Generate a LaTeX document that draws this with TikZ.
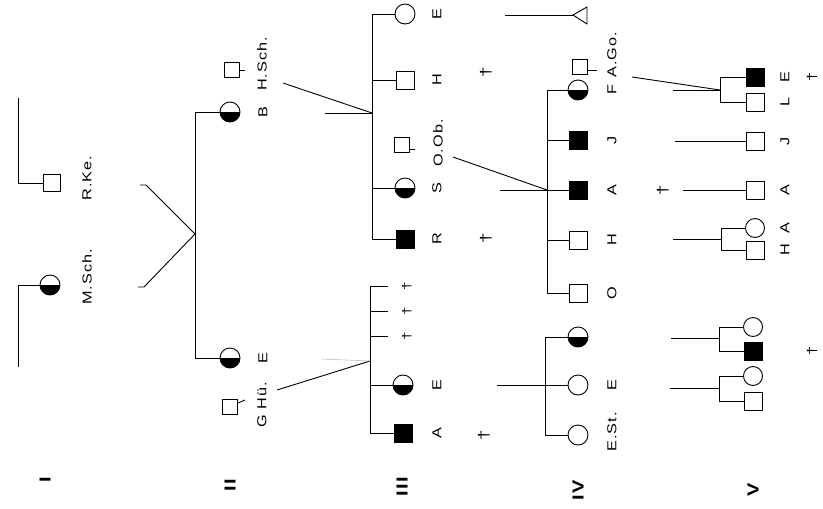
\documentclass[tikz,border=0pt]{standalone}
\usepackage{fontspec}
\setmainfont{Liberation Sans}[FakeStretch=1.25, LetterSpace=8]
\begin{document}
\begin{tikzpicture}[x=1pt,y=-1pt, line width=0.9pt,
  sym/.style={draw, inner sep=0pt, line width=0.9pt},
  sq/.style={sym, rectangle, minimum size=18pt},
  ssq/.style={sym, rectangle, minimum size=15pt},
  fsq/.style={sq, fill=black},
  ci/.style={sym, circle, minimum size=20pt},
  hci/.style={ci, path picture={\fill (path picture bounding box.west) rectangle (path picture bounding box.south east);}},
  lab/.style={rotate=90, font=\fontsize{13}{13}\selectfont, inner sep=0pt},
  gen/.style={rotate=90, font=\fontsize{16}{16}\selectfont\bfseries, inner sep=0pt},
  dag/.style={rotate=90, font=\fontsize{15}{15}\selectfont, inner sep=0pt}]
\useasboundingbox (0,0) rectangle (823,509);
% ---------- Generation I
\node[hci] (msch) at (50,285) {};
\node[sq, minimum size=17pt] (rke) at (52,183) {};
\coordinate (ia) at (18,367);
\coordinate (ib) at (18,98);
\draw (ia) |- (msch.west);
\draw (ib) |- (rke.west);
\node[lab] (lmsch) at (87,277) {M.Sch.};
\node[lab] (lrke) at (87,178) {R.Ke.};
\coordinate (m1a0) at (140,185); \coordinate (m1a) at (146,185);
\coordinate (m1b0) at (138,287); \coordinate (m1b) at (144,287);
\coordinate (m1) at (195,234);
\draw (m1a0) -- (m1a) -- (m1);
\draw (m1b0) -- (m1b) -- (m1);
% ---------- Generation II
\node[hci] (b2) at (230,112) {};
\node[hci] (e2) at (230,358) {};
\coordinate (s1t) at (195,112); \coordinate (s1b) at (195,358);
\draw (b2.west) -- (s1t) -- (s1b) -- (e2.west);
\node[ssq] (hsch) at (232,70) {};
\coordinate (hscht) at (245,70);
\draw (hsch.east) -- (hscht);
\node[ssq] (ghu) at (230,407) {};
\coordinate (ghut) at (245,400);
\draw ([yshift=4pt]ghu.east) -- (ghut);
\node[lab] (lb2) at (263,112) {B};
\node[lab] (lhsch) at (262,64) {H.Sch.};
\node[lab] (le2) at (263,358) {E};
\node[lab] (lghu) at (262,405) {G Hü.};
% ---------- Generation III, family 1
\coordinate (m2a) at (283,83); \coordinate (m2b) at (325,113); \coordinate (m2) at (372,113);
\draw (m2a) -- (m2); \draw (m2b) -- (m2);
\node[ci] (e3) at (405,14) {};
\node[sq] (h3) at (405,80) {};
\node[ssq] (oob) at (402,145) {};
\node[hci] (s3) at (405,188) {};
\node[fsq] (r3) at (405,239) {};
\coordinate (s2t) at (372,14); \coordinate (s2b) at (372,239);
\coordinate (s2h) at (372,80); \coordinate (s2s) at (372,188);
\draw (e3.west) -- (s2t) -- (s2b) -- (r3.west);
\draw (h3.west) -- (s2h);
\draw (s3.west) -- (s2s);
\coordinate (oobt) at (415,149);
\draw ([yshift=-4pt]oob.east) -- (oobt);
\node[lab] at (437,14) {E};
\node[lab] at (437,80) {H};
\node[lab] at (438,143) {O.Ob.};
\node[lab] at (437,188) {S};
\node[lab] at (437,239) {R};
% ---------- Generation III, family 2
\coordinate (m3a) at (277,390); \coordinate (m3c) at (322,359); \coordinate (m3) at (370,361);
\draw (m3a) -- (m3); \draw[gray!50, line width=0.6pt] (m3c) -- (m3);
\node[hci] (e3b) at (403,385) {};
\node[fsq] (a3) at (403,433) {};
\coordinate (s3t) at (370,286); \coordinate (s3b) at (370,433);
\coordinate (s3e) at (370,385);
\draw (s3t) -- (s3b) -- (a3.west);
\draw (e3b.west) -- (s3e);
\foreach \y/\n in {286/x1,311/x2,336/x3}{
  \coordinate (st\n) at (370,\y); \coordinate (en\n) at (388,\y);
  \draw (st\n) -- (en\n);
  \node[dag, font=\fontsize{12}{12}\selectfont] at (407,\y) {†};
}
\node[lab] at (437,385) {E};
\node[lab] at (437,433) {A};
% deaths gen III
\node[dag] at (486,72) {†};
\node[dag] at (486,238) {†};
\node[dag] at (484,435) {†};
% ---------- Generation IV
\coordinate (e3c) at (505,15);
\coordinate (tra) at (573,15); \coordinate (trb) at (587,7); \coordinate (trc) at (587,24);
\draw (e3c) -- (tra);
\draw[line join=round] (tra) -- (trb) -- (trc) -- cycle;
\coordinate (m4a) at (453,157); \coordinate (m4b) at (500,190); \coordinate (m4) at (547,190);
\draw (m4a) -- (m4); \draw (m4b) -- (m4);
\node[hci] (f4) at (578,90) {};
\node[ssq] (ago) at (580,67) {};
\coordinate (agot) at (597,70);
\draw ([yshift=-3pt]ago.east) -- (agot);
\node[fsq] (j4) at (578,140) {};
\node[fsq] (a4) at (578,190) {};
\node[sq] (h4) at (578,240) {};
\node[sq] (o4) at (578,293) {};
\coordinate (s4t) at (547,90); \coordinate (s4b) at (547,293);
\coordinate (s4j) at (547,140); \coordinate (s4h) at (547,240);
\draw (f4.west) -- (s4t) -- (s4b) -- (o4.west);
\draw (s4j) -- (j4.west);
\draw (m4) -- (a4.west);
\draw (s4h) -- (h4.west);
\node[lab] at (612,90) {F};
\node[lab] at (612,55) {A.Go.};
\node[lab] at (612,140) {J};
\node[lab] at (612,190) {A};
\node[lab] at (612,240) {H};
\node[lab] at (612,293) {O};
% family 2
\coordinate (m5a) at (497,385); \coordinate (m5) at (545,385);
\draw (m5a) -- (m5);
\node[hci] (x4) at (578,337) {};
\node[ci] (e4) at (578,385) {};
\node[ci] (est) at (578,435) {};
\coordinate (s5t) at (545,337); \coordinate (s5b) at (545,435);
\draw (x4.west) -- (s5t) -- (s5b) -- (est.west);
\draw (m5) -- (e4.west);
\node[lab] at (612,385) {E};
\node[lab] at (612,432) {E.St.};
% ---------- Generation V
\coordinate (m6a) at (632,77); \coordinate (m6b) at (673,90); \coordinate (m6) at (720,90);
\draw (m6a) -- (m6); \draw (m6b) -- (m6);
\node[fsq] (e5) at (755,77) {};
\node[sq] (l5) at (755,102) {};
\coordinate (s6t) at (720,77); \coordinate (s6b) at (720,102);
\draw (e5.west) -- (s6t) -- (s6b) -- (l5.west);
\node[lab] at (785,77) {E};
\node[lab] at (785,102) {L};
\node[dag, font=\fontsize{13}{13}\selectfont] at (812,77) {†};
\coordinate (j5a) at (675,141);
\node[sq] (j5) at (755,141) {};
\draw (j5a) -- (j5.west);
\node[lab] at (785,141) {J};
\node[dag] at (663,190) {†};
\coordinate (a5a) at (683,190);
\node[sq] (a5) at (755,190) {};
\draw (a5a) -- (a5.west);
\node[lab] at (785,190) {A};
\coordinate (ha5a) at (673,239); \coordinate (ha5) at (721,239);
\node[ci, minimum size=19pt] (ca5) at (755,228) {};
\node[sq] (hh5) at (755,250) {};
\coordinate (s7t) at (721,228); \coordinate (s7b) at (721,250);
\draw (ha5a) -- (ha5);
\draw (ca5.west) -- (s7t) -- (s7b) -- (hh5.west);
\node[lab] at (785,228) {A};
\node[lab] at (785,250) {H};
\coordinate (f8a) at (671,338); \coordinate (f8) at (719,338);
\node[ci, minimum size=19pt] (c8) at (753,327) {};
\node[fsq] (q8) at (753,351) {};
\coordinate (s8t) at (719,327); \coordinate (s8b) at (719,351);
\draw (f8a) -- (f8);
\draw (c8.west) -- (s8t) -- (s8b) -- (q8.west);
\node[dag, font=\fontsize{13}{13}\selectfont] at (812,351) {†};
\coordinate (f9a) at (670,388); \coordinate (f9) at (719,388);
\node[ci, minimum size=19pt] (c9) at (753,376) {};
\node[sq] (q9) at (753,401) {};
\coordinate (s9t) at (719,376); \coordinate (s9b) at (719,401);
\draw (f9a) -- (f9);
\draw (c9.west) -- (s9t) -- (s9b) -- (q9.west);
% generation numerals
\node[gen] at (45,480) {I};
\node[gen] at (230,485) {II};
\node[gen] at (402,487) {III};
\node[gen] at (578,490) {IV};
\node[gen] at (753,490) {V};
\end{tikzpicture}
\end{document}
